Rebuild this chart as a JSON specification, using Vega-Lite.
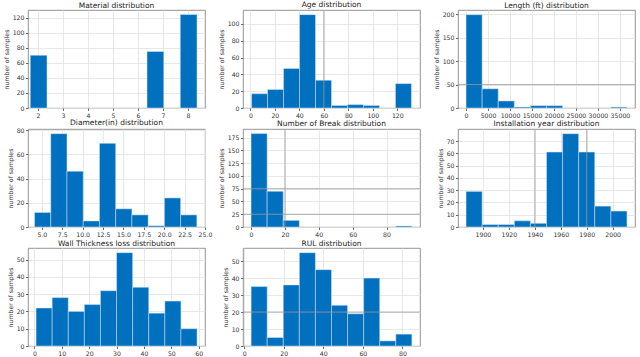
{
  "$schema": "https://vega.github.io/schema/vega-lite/v6.json",
  "background": "white",
  "padding": {"left": 2, "top": 0, "right": 2, "bottom": 0},
  "bounds": "flush",
  "columns": 3,
  "spacing": {"row": 21, "column": 38},
  "datasets": {
    "material": [
      {"lo": 1.69, "hi": 2.36, "n": 70},
      {"lo": 6.36, "hi": 7.03, "n": 75},
      {"lo": 7.69, "hi": 8.36, "n": 124}
    ],
    "age": [
      {"lo": 1.0, "hi": 14.05, "n": 17},
      {"lo": 14.05, "hi": 27.1, "n": 22},
      {"lo": 27.1, "hi": 40.15, "n": 47},
      {"lo": 40.15, "hi": 53.2, "n": 111},
      {"lo": 53.2, "hi": 66.25, "n": 33},
      {"lo": 66.25, "hi": 79.3, "n": 3},
      {"lo": 79.3, "hi": 92.35, "n": 4},
      {"lo": 92.35, "hi": 105.4, "n": 3},
      {"lo": 118.45, "hi": 131.5, "n": 29}
    ],
    "age_dark": [{"lo": 60}],
    "length": [
      {"lo": 0, "hi": 3660, "n": 199},
      {"lo": 3660, "hi": 7320, "n": 41},
      {"lo": 7320, "hi": 10980, "n": 15},
      {"lo": 10980, "hi": 14640, "n": 2},
      {"lo": 14640, "hi": 18300, "n": 5},
      {"lo": 18300, "hi": 21960, "n": 5},
      {"lo": 32940, "hi": 36600, "n": 2}
    ],
    "length_dark": [{"n": 50}],
    "diameter": [
      {"lo": 4.1, "hi": 6.09, "n": 12},
      {"lo": 6.09, "hi": 8.08, "n": 77},
      {"lo": 8.08, "hi": 10.07, "n": 46},
      {"lo": 10.07, "hi": 12.06, "n": 5},
      {"lo": 12.06, "hi": 14.05, "n": 69},
      {"lo": 14.05, "hi": 16.04, "n": 15},
      {"lo": 16.04, "hi": 18.03, "n": 10},
      {"lo": 18.03, "hi": 20.02, "n": 1},
      {"lo": 20.02, "hi": 22.01, "n": 24},
      {"lo": 22.01, "hi": 24.0, "n": 10}
    ],
    "breaks": [
      {"lo": 0, "hi": 9.5, "n": 183},
      {"lo": 9.5, "hi": 19, "n": 70},
      {"lo": 19, "hi": 28.5, "n": 13},
      {"lo": 85.5, "hi": 95, "n": 2}
    ],
    "breaks_dark_x": [{"lo": 20}],
    "breaks_dark_y": [{"n": 25}, {"n": 75}],
    "year": [
      {"lo": 1887.0, "hi": 1899.4, "n": 29},
      {"lo": 1899.4, "hi": 1911.8, "n": 2},
      {"lo": 1911.8, "hi": 1924.2, "n": 2},
      {"lo": 1924.2, "hi": 1936.6, "n": 5},
      {"lo": 1936.6, "hi": 1949.0, "n": 3},
      {"lo": 1949.0, "hi": 1961.4, "n": 61},
      {"lo": 1961.4, "hi": 1973.8, "n": 76},
      {"lo": 1973.8, "hi": 1986.2, "n": 61},
      {"lo": 1986.2, "hi": 1998.6, "n": 17},
      {"lo": 1998.6, "hi": 2011.0, "n": 13}
    ],
    "year_dark": [{"lo": 1940}, {"lo": 1980}],
    "wall": [
      {"lo": 0.6, "hi": 6.48, "n": 22},
      {"lo": 6.48, "hi": 12.36, "n": 28},
      {"lo": 12.36, "hi": 18.24, "n": 20},
      {"lo": 18.24, "hi": 24.12, "n": 24},
      {"lo": 24.12, "hi": 30.0, "n": 32},
      {"lo": 30.0, "hi": 35.88, "n": 54},
      {"lo": 35.88, "hi": 41.76, "n": 34},
      {"lo": 41.76, "hi": 47.64, "n": 19},
      {"lo": 47.64, "hi": 53.52, "n": 26},
      {"lo": 53.52, "hi": 59.4, "n": 10}
    ],
    "rul": [
      {"lo": 3.5, "hi": 11.63, "n": 35},
      {"lo": 11.63, "hi": 19.76, "n": 5},
      {"lo": 19.76, "hi": 27.89, "n": 36},
      {"lo": 27.89, "hi": 36.02, "n": 55},
      {"lo": 36.02, "hi": 44.15, "n": 45},
      {"lo": 44.15, "hi": 52.28, "n": 24},
      {"lo": 52.28, "hi": 60.41, "n": 19},
      {"lo": 60.41, "hi": 68.54, "n": 40},
      {"lo": 68.54, "hi": 76.67, "n": 3},
      {"lo": 76.67, "hi": 84.8, "n": 7}
    ],
    "rul_dark": [{"n": 20}]
  },
  "concat": [
    {
      "title": "Material distribution",
      "width": 177, "height": 98,
      "data": {"name": "material"},
      "mark": {"type": "rect", "color": "#0070bf", "stroke": "#d6e6f4", "strokeWidth": 0.5},
      "encoding": {
        "x": {"field": "lo", "type": "quantitative", "scale": {"domain": [1.6, 8.68], "nice": false, "zero": false}, "axis": {"values": [2, 3, 4, 5, 6, 7, 8], "format": "d"}},
        "x2": {"field": "hi"},
        "y": {"field": "n", "type": "quantitative", "title": "number of samples", "scale": {"domain": [0, 130], "nice": false}, "axis": {"values": [0, 20, 40, 60, 80, 100, 120]}},
        "y2": {"datum": 0}
      }
    },
    {
      "title": "Age distribution",
      "width": 177, "height": 98,
      "encoding": {
        "x": {"field": "lo", "type": "quantitative", "scale": {"domain": [-6, 138.5], "nice": false, "zero": false}, "axis": {"values": [0, 20, 40, 60, 80, 100, 120], "format": "d"}}
      },
      "layer": [
        {
          "data": {"name": "age"},
          "mark": {"type": "rect", "color": "#0070bf", "stroke": "#d6e6f4", "strokeWidth": 0.5},
          "encoding": {
            "x2": {"field": "hi"},
            "y": {"field": "n", "type": "quantitative", "title": "number of samples", "scale": {"domain": [0, 116.5], "nice": false}, "axis": {"values": [0, 20, 40, 60, 80, 100]}},
            "y2": {"datum": 0}
          }
        },
        {
          "data": {"name": "age_dark"},
          "mark": {"type": "rule", "color": "#9a9a9a", "strokeWidth": 0.8},
          "encoding": {}
        }
      ]
    },
    {
      "title": "Length (ft)  distribution",
      "width": 177, "height": 98,
      "encoding": {
        "y": {"field": "n", "type": "quantitative", "title": "number of samples", "scale": {"domain": [0, 209], "nice": false}, "axis": {"values": [0, 50, 100, 150, 200]}}
      },
      "layer": [
        {
          "data": {"name": "length"},
          "mark": {"type": "rect", "color": "#0070bf", "stroke": "#d6e6f4", "strokeWidth": 0.5},
          "encoding": {
            "x": {"field": "lo", "type": "quantitative", "scale": {"domain": [-1830, 38430], "nice": false, "zero": false}, "axis": {"values": [0, 5000, 10000, 15000, 20000, 25000, 30000, 35000], "format": "d"}},
            "x2": {"field": "hi"},
            "y2": {"datum": 0}
          }
        },
        {
          "data": {"name": "length_dark"},
          "mark": {"type": "rule", "color": "#9a9a9a", "strokeWidth": 0.8},
          "encoding": {}
        }
      ]
    },
    {
      "title": "Diameter(in) distribution",
      "width": 177, "height": 98,
      "data": {"name": "diameter"},
      "mark": {"type": "rect", "color": "#0070bf", "stroke": "#d6e6f4", "strokeWidth": 0.5},
      "encoding": {
        "x": {"field": "lo", "type": "quantitative", "scale": {"domain": [3.3, 25.0], "nice": false, "zero": false}, "axis": {"values": [5, 7.5, 10, 12.5, 15, 17.5, 20, 22.5, 25], "format": ".1f"}},
        "x2": {"field": "hi"},
        "y": {"field": "n", "type": "quantitative", "title": "number of samples", "scale": {"domain": [0, 80.85], "nice": false}, "axis": {"values": [0, 20, 40, 60, 80]}},
        "y2": {"datum": 0}
      }
    },
    {
      "title": "Number of Break distribution",
      "width": 177, "height": 98,
      "layer": [
        {
          "data": {"name": "breaks"},
          "mark": {"type": "rect", "color": "#0070bf", "stroke": "#d6e6f4", "strokeWidth": 0.5},
          "encoding": {
            "x": {"field": "lo", "type": "quantitative", "scale": {"domain": [-4.75, 99.75], "nice": false, "zero": false}, "axis": {"values": [0, 20, 40, 60, 80], "format": "d"}},
            "x2": {"field": "hi"},
            "y": {"field": "n", "type": "quantitative", "title": "number of samples", "scale": {"domain": [0, 192], "nice": false}, "axis": {"values": [0, 25, 50, 75, 100, 125, 150, 175]}},
            "y2": {"datum": 0}
          }
        },
        {
          "data": {"name": "breaks_dark_x"},
          "mark": {"type": "rule", "color": "#9a9a9a", "strokeWidth": 0.8},
          "encoding": {
            "x": {"field": "lo", "type": "quantitative", "scale": {"domain": [-4.75, 99.75], "nice": false, "zero": false}, "axis": {"values": [0, 20, 40, 60, 80], "format": "d"}}
          }
        },
        {
          "data": {"name": "breaks_dark_y"},
          "mark": {"type": "rule", "color": "#9a9a9a", "strokeWidth": 0.8},
          "encoding": {
            "y": {"field": "n", "type": "quantitative", "title": "number of samples", "scale": {"domain": [0, 192], "nice": false}, "axis": {"values": [0, 25, 50, 75, 100, 125, 150, 175]}}
          }
        }
      ]
    },
    {
      "title": "Installation year  distribution",
      "width": 177, "height": 98,
      "encoding": {
        "x": {"field": "lo", "type": "quantitative", "scale": {"domain": [1880.8, 2017.2], "nice": false, "zero": false}, "axis": {"values": [1900, 1920, 1940, 1960, 1980, 2000], "format": "d"}}
      },
      "layer": [
        {
          "data": {"name": "year"},
          "mark": {"type": "rect", "color": "#0070bf", "stroke": "#d6e6f4", "strokeWidth": 0.5},
          "encoding": {
            "x2": {"field": "hi"},
            "y": {"field": "n", "type": "quantitative", "title": "number of samples", "scale": {"domain": [0, 79.8], "nice": false}, "axis": {"values": [0, 10, 20, 30, 40, 50, 60, 70]}},
            "y2": {"datum": 0}
          }
        },
        {
          "data": {"name": "year_dark"},
          "mark": {"type": "rule", "color": "#9a9a9a", "strokeWidth": 0.8},
          "encoding": {}
        }
      ]
    },
    {
      "title": "Wall Thickness loss distribution",
      "width": 177, "height": 98,
      "data": {"name": "wall"},
      "mark": {"type": "rect", "color": "#0070bf", "stroke": "#d6e6f4", "strokeWidth": 0.5},
      "encoding": {
        "x": {"field": "lo", "type": "quantitative", "scale": {"domain": [-2.34, 62.3], "nice": false, "zero": false}, "axis": {"values": [0, 10, 20, 30, 40, 50, 60], "format": "d"}},
        "x2": {"field": "hi"},
        "y": {"field": "n", "type": "quantitative", "title": "number of samples", "scale": {"domain": [0, 56.7], "nice": false}, "axis": {"values": [0, 10, 20, 30, 40, 50]}},
        "y2": {"datum": 0}
      }
    },
    {
      "title": "RUL distribution",
      "width": 177, "height": 98,
      "encoding": {
        "y": {"field": "n", "type": "quantitative", "title": "number of samples", "scale": {"domain": [0, 57.75], "nice": false}, "axis": {"values": [0, 10, 20, 30, 40, 50]}}
      },
      "layer": [
        {
          "data": {"name": "rul"},
          "mark": {"type": "rect", "color": "#0070bf", "stroke": "#d6e6f4", "strokeWidth": 0.5},
          "encoding": {
            "x": {"field": "lo", "type": "quantitative", "scale": {"domain": [-0.6, 88.9], "nice": false, "zero": false}, "axis": {"values": [0, 20, 40, 60, 80], "format": "d"}},
            "x2": {"field": "hi"},
            "y2": {"datum": 0}
          }
        },
        {
          "data": {"name": "rul_dark"},
          "mark": {"type": "rule", "color": "#9a9a9a", "strokeWidth": 0.8},
          "encoding": {}
        }
      ]
    }
  ],
  "config": {
    "font": "DejaVu Sans",
    "view": {"stroke": "#777777", "strokeWidth": 0.8},
    "axis": {
      "labelFont": "DejaVu Sans", "labelFontSize": 6.2, "labelColor": "#333333",
      "labelFlush": false, "labelOverlap": false, "labelBound": false, "labelPadding": 1.5,
      "tickColor": "#444444", "tickSize": 2.5, "tickWidth": 0.8,
      "domain": false,
      "gridColor": "#e2e2e2", "gridWidth": 0.8,
      "titleFont": "DejaVu Sans", "titleFontSize": 6.2, "titleFontWeight": "normal", "titleColor": "#333333", "titlePadding": 3
    },
    "axisX": {"title": null},
    "title": {"font": "DejaVu Sans", "fontSize": 7.5, "fontWeight": "normal", "color": "#222222", "offset": 1}
  }
}
